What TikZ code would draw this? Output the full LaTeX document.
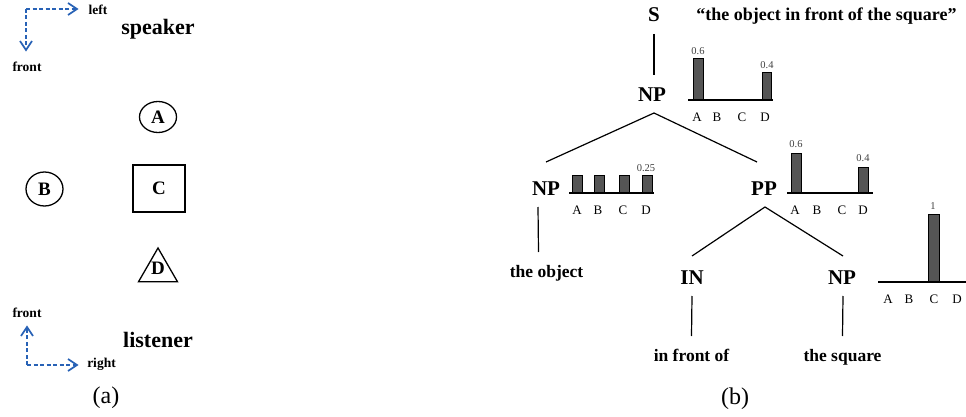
\documentclass[tikz,border=0pt]{standalone}
\usepackage{fontspec}
\setmainfont{Liberation Serif}
\usetikzlibrary{arrows.meta,shapes.geometric,calc}
\definecolor{dirblue}{RGB}{40,98,182}
\definecolor{barfill}{RGB}{85,85,85}
\newcommand{\setfsz}[1]{\fontsize{#1}{#1}\selectfont}
\begin{document}
\begin{tikzpicture}[x=1pt,y=-1pt,
  lab/.style={inner sep=0pt, anchor=base, font=\bfseries\setfsz{13.5}},
  big/.style={inner sep=0pt, anchor=base, font=\bfseries\setfsz{22}},
  cat/.style={inner sep=0pt, anchor=base, font=\bfseries\setfsz{21}},
  leaf/.style={inner sep=0pt, anchor=base, font=\bfseries\setfsz{17.5}},
  capt/.style={inner sep=0pt, anchor=base, font=\setfsz{24}},
  axl/.style={inner sep=0pt, anchor=base, font=\setfsz{13}},
  val/.style={inner sep=0pt, anchor=base, font=\setfsz{10.5}, text=black!75},
  bar/.style={draw=black, line width=0.6pt, fill=barfill},
  axisline/.style={line width=1.5pt},
  tedge/.style={line width=1.2pt},
  dirline/.style={draw=dirblue, line width=1.6pt, dash pattern=on 4pt off 2.5pt},
  chev/.style={draw=dirblue, line width=1.7pt, line join=miter, line cap=butt},
  obj/.style={draw, line width=1.3pt, inner sep=0pt, font=\bfseries\setfsz{19}},
]
\useasboundingbox (0,0) rectangle (966,417);

% ---------- panel (a) ----------
\coordinate (c1) at (26,9);
\coordinate (tipL) at (77,9);
\coordinate (tipF) at (26,50);
\draw[dirline] (c1) -- ($(tipL)+(-2,0)$);
\draw[dirline] (c1) -- ($(tipF)+(0,-2)$);
\draw[chev] ($(tipL)+(-9,-6)$) -- (tipL) -- ($(tipL)+(-9,6)$);
\draw[chev] ($(tipF)+(-6,-9)$) -- (tipF) -- ($(tipF)+(6,-9)$);
\node[lab] (leftl) at (98,15) {left};
\node[lab] (front1) at (27,72) {front};
\node[big] (speaker) at (158,35) {speaker};

\node[obj, ellipse, minimum width=37pt, minimum height=31pt] (A) at (158,117) {A};
\node[obj, ellipse, minimum width=37pt, minimum height=34pt] (B) at (44.5,189) {B};
\node[obj, rectangle, minimum width=52pt, minimum height=47pt] (C) at (159,188.5) {C};
\node[obj, regular polygon, regular polygon sides=3, minimum size=45pt] (D) at (158,270.5) {};
\node[inner sep=0pt, font=\bfseries\setfsz{19}] (Dl) at (158,268) {D};

\coordinate (c2) at (27,365);
\coordinate (tipF2) at (27,327);
\coordinate (tipR) at (77,365);
\draw[dirline] (c2) -- ($(tipF2)+(0,2)$);
\draw[dirline] (c2) -- ($(tipR)+(-2,0)$);
\draw[chev] ($(tipF2)+(-6,9)$) -- (tipF2) -- ($(tipF2)+(6,9)$);
\draw[chev] ($(tipR)+(-9,-6)$) -- (tipR) -- ($(tipR)+(-9,6)$);
\node[lab] (front2) at (27,317) {front};
\node[lab] (right) at (101.5,367) {right};
\node[big] (listener) at (158,347) {listener};
\node[capt] (capa) at (106,403) {(a)};

% ---------- panel (b) ----------
\node[cat] (S) at (654,22) {S};
\node[inner sep=0pt, anchor=base, font=\bfseries\setfsz{18}] (quote) at (826.5,21) {\textquotedblleft the object in front of the square\textquotedblright};
\node[cat] (NP1) at (652,102) {NP};
\node[cat] (NPl) at (546,195) {NP};
\node[cat] (PP) at (764,195) {PP};
\node[cat] (IN) at (692,284) {IN};
\node[cat] (NPr) at (842,284) {NP};
\node[leaf] (obj) at (546.5,277) {the object};
\node[leaf] (infront) at (691.5,361) {in front of};
\node[leaf] (square) at (842.5,361) {the square};
\node[capt] (capb) at (735,404) {(b)};

\draw[tedge] ($(S.base)+(0,12)$) -- ($(NP1.base)+(2,-27)$);
\draw[tedge] ($(NPl.base)+(0,-33)$) -- ($(NP1.base)+(2,11)$) -- ($(PP.base)+(-7,-33)$);
\draw[tedge] ($(NPl.base)+(-8,12)$) -- ($(obj.base)+(-8,-25)$);
\draw[tedge] ($(IN.base)+(0,-28)$) -- ($(PP.base)+(1,12)$) -- ($(NPr.base)+(1,-28)$);
\draw[tedge] ($(IN.base)+(0,12)$) -- ($(infront.base)+(0,-25)$);
\draw[tedge] ($(NPr.base)+(1,12)$) -- ($(square.base)+(0,-25)$);

% chart 1 (top NP)
\draw[bar] (693,58) rectangle (703,100);
\draw[bar] (762,72) rectangle (771,100);
\draw[axisline] (688,100) -- (773,100);
\node[val] (v11) at (698,55) {0.6};
\node[val] (v14) at (767,69) {0.4};
\node[axl] (a1A) at (697,121.5) {A};
\node[axl] (a1B) at (717,121.5) {B};
\node[axl] (a1C) at (742,121.5) {C};
\node[axl] (a1D) at (765,121.5) {D};

% chart 2 (left NP)
\draw[bar] (572,175) rectangle (582,193);
\draw[bar] (594,175) rectangle (604,193);
\draw[bar] (619,175) rectangle (629,193);
\draw[bar] (642,175) rectangle (652,193);
\draw[axisline] (569,193) -- (654,193);
\node[val] (v24) at (646,171) {0.25};
\node[axl] (a2A) at (577,214.5) {A};
\node[axl] (a2B) at (598,214.5) {B};
\node[axl] (a2C) at (623,214.5) {C};
\node[axl] (a2D) at (646,214.5) {D};

% chart 3 (PP)
\draw[bar] (791,153) rectangle (801,193);
\draw[bar] (858,167) rectangle (868,193);
\draw[axisline] (787,193) -- (873,193);
\node[val] (v31) at (796,147) {0.6};
\node[val] (v34) at (863,161) {0.4};
\node[axl] (a3A) at (795,214.5) {A};
\node[axl] (a3B) at (817,214.5) {B};
\node[axl] (a3C) at (842,214.5) {C};
\node[axl] (a3D) at (863,214.5) {D};

% chart 4 (right NP)
\draw[bar] (928,214) rectangle (939,282);
\draw[axisline] (878,282) -- (966,282);
\node[val] (v43) at (933,209) {1};
\node[axl] (a4A) at (888,303) {A};
\node[axl] (a4B) at (909,303) {B};
\node[axl] (a4C) at (934,303) {C};
\node[axl] (a4D) at (957,303) {D};
\end{tikzpicture}
\end{document}
